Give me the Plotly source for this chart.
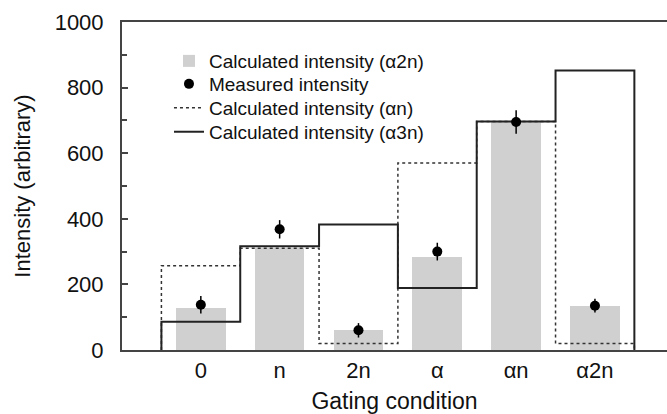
import plotly.graph_objects as go

categories = ["0", "n", "2n", "α", "αn", "α2n"]
calc_a2n = [128, 310, 61, 283, 696, 135]
measured = [138, 368, 60, 300, 695, 135]
measured_err = [27, 28, 22, 27, 36, 21]
calc_an = [257, 310, 20, 570, 697, 20]
calc_a3n = [86, 316, 383, 189, 697, 852]

idx = list(range(len(categories)))

def step_xy(vals):
    xs = [idx[0] - 0.5] + [i - 0.5 for i in idx] + [idx[-1] + 0.5]
    ys = [0] + list(vals) + [0]
    return xs, ys

FONT = "Liberation Sans, Arial, sans-serif"
fig = go.Figure()

fig.add_trace(go.Bar(
    x=idx, y=calc_a2n, width=0.63, marker=dict(color="#d0d0d0", line=dict(width=0)),
    name="Calculated intensity (α2n)", legend="legend"))

xs, ys = step_xy(calc_an)
fig.add_trace(go.Scatter(
    x=xs, y=ys, mode="lines", line=dict(shape="hv", color="#333333", width=1.5, dash="dot"),
    name="Calculated intensity (αn)", legend="legend3"))

xs, ys = step_xy(calc_a3n)
fig.add_trace(go.Scatter(
    x=xs, y=ys, mode="lines", line=dict(shape="hv", color="#222222", width=2),
    name="Calculated intensity (α3n)", legend="legend4"))

fig.add_trace(go.Scatter(
    x=idx, y=measured, mode="markers",
    marker=dict(color="black", size=10),
    error_y=dict(type="data", array=measured_err, color="black", thickness=1.5, width=0),
    name="Measured intensity", legend="legend2"))

def leg(y):
    return dict(x=0.0862, y=y, xanchor="left", yanchor="middle",
                font=dict(size=19, color="#111111"), bgcolor="rgba(0,0,0,0)",
                itemwidth=30)

fig.update_layout(
    width=667, height=414,
    margin=dict(l=122, r=0, t=22, b=64),
    paper_bgcolor="white", plot_bgcolor="white",
    font=dict(family=FONT, color="#111111", size=22),
    bargap=0,
    showlegend=True,
    legend=leg(0.881), legend2=leg(0.811), legend3=leg(0.738), legend4=leg(0.665),
    xaxis=dict(
        range=[-1, 5.914], tickmode="array", tickvals=idx, ticktext=categories,
        showline=True, linecolor="#444444", linewidth=2, mirror=True,
        ticks="", showgrid=False, zeroline=False, ticklabelstandoff=0,
        tickfont=dict(size=22), automargin=False,
        title=dict(text="Gating condition", font=dict(size=23), standoff=16)),
    yaxis=dict(
        range=[0, 1000], tickvals=[0, 200, 400, 600, 800, 1000],
        showline=True, linecolor="#444444", linewidth=2, mirror=False,
        ticks="inside", ticklen=6, tickcolor="#444444", tickwidth=1.5,
        minor=dict(tickvals=[100, 300, 500, 700, 900], ticks="inside", ticklen=5,
                   tickcolor="#444444", tickwidth=1.5, showgrid=False),
        showgrid=False, zeroline=False, ticklabelstandoff=12,
        tickfont=dict(size=22), automargin=False,
        title=dict(text="Intensity (arbitrary)", font=dict(size=22), standoff=18)),
)

fig.write_html("out.html")
